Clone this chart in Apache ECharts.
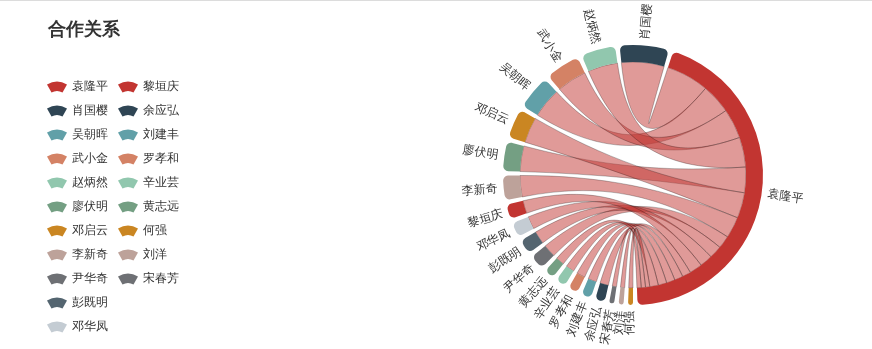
<!DOCTYPE html>
<html>
<head>
<meta charset="utf-8">
<script src="https://cdn.jsdelivr.net/npm/echarts@6/dist/echarts.min.js"></script>
<style>
html,body{margin:0;padding:0;background:#fff;}
#wrap{width:872px;height:349px;box-sizing:border-box;border-top:1px solid #dcdcdc;}
#chart{width:872px;height:348px;}
</style>
</head>
<body>
<div id="wrap"><div id="chart"></div></div>
<script>
// Nodes in original (legend) order
const names = ['袁隆平','肖国樱','吴朝晖','武小金','赵炳然','廖伏明','邓启云','李新奇','尹华奇','彭既明','邓华凤','黎垣庆','余应弘','刘建丰','罗孝和','辛业芸','黄志远','何强','刘洋','宋春芳'];
// Center person and co-operation counts with him (same order as names, excluding the center)
const centerName = '袁隆平';
const partners = ['肖国樱','吴朝晖','武小金','赵炳然','廖伏明','邓启云','李新奇','尹华奇','彭既明','邓华凤','黎垣庆','余应弘','刘建丰','罗孝和','辛业芸','黄志远','何强','刘洋','宋春芳'];
const partnerValues = [10,7,7,7,6,6,5,3,3,3,3,2,2,2,2,2,1,1,1];
const palette = ['#c23531','#2f4554','#61a0a8','#d48265','#91c7ae','#749f83','#ca8622','#bda29a','#6e7074','#546570','#c4ccd3'];

const PAD = 2;
const colorOf = {};
names.forEach((n, i) => { colorOf[n] = palette[i % palette.length]; });
const valueOf = {};
partners.forEach((n, i) => { valueOf[n] = partnerValues[i]; });
valueOf[centerName] = partnerValues.reduce((a, b) => a + b, 0);

// Ring order: ascending by value (stable)
const ringOrder = names.slice().sort((a, b) => valueOf[a] - valueOf[b]);

const chordData = ringOrder.map(n => ({ name: n, itemStyle: { color: colorOf[n] } }));
const chordLinks = partners.map((n, i) => ({ source: centerName, target: n, value: partnerValues[i] }));

// Label carrier pie: same values plus the pad gaps
const total = valueOf[centerName] * 2;
const gapValue = PAD / 360 * total / (1 - ringOrder.length * PAD / 360);
const pieData = [];
ringOrder.forEach(n => {
  pieData.push({ name: n, value: valueOf[n] });
  pieData.push({ name: '', value: gapValue, label: { show: false } });
});

const CENTER = [633, 174];
const RADIUS = [113, 130];

const chart = echarts.init(document.getElementById('chart'), null, { renderer: 'canvas' });
chart.setOption({
  animation: false,
  title: {
    text: '合作关系', left: 48, top: 20, padding: 0,
    textStyle: { fontSize: 18, fontWeight: 'bold', color: '#333' }
  },
  legend: {
    orient: 'vertical', left: 47, top: 79, padding: 0, height: 262,
    itemWidth: 20, itemHeight: 14, itemGap: 10,
    textStyle: { fontSize: 12, color: '#333', lineHeight: 14 },
    data: names.map(n => ({
      name: n,
      icon: 'path://M0,6 Q20,-6 40,6 L31,22 Q20,16 9,22 Z',
      itemStyle: { color: colorOf[n] }
    }))
  },
  series: [
    {
      type: 'chord',
      center: CENTER,
      radius: RADIUS,
      startAngle: -90,
      clockwise: true,
      padAngle: PAD,
      minAngle: 0,
      label: { show: false },
      itemStyle: { borderWidth: 0 },
      lineStyle: { color: 'source', opacity: 0.5, width: 0.5 },
      emphasis: { disabled: true },
      data: chordData,
      links: chordLinks
    },
    {
      type: 'pie',
      silent: true,
      center: CENTER,
      radius: RADIUS,
      startAngle: -90,
      clockwise: true,
      avoidLabelOverlap: false,
      labelLayout: { hideOverlap: false },
      itemStyle: { color: 'rgba(0,0,0,0)' },
      label: { show: true, position: 'outside', rotate: 'radial', fontSize: 12, color: '#333' },
      labelLine: { show: false, length: 6, length2: -5 },
      emphasis: { disabled: true },
      data: pieData
    }
  ]
});
</script>
</body>
</html>
